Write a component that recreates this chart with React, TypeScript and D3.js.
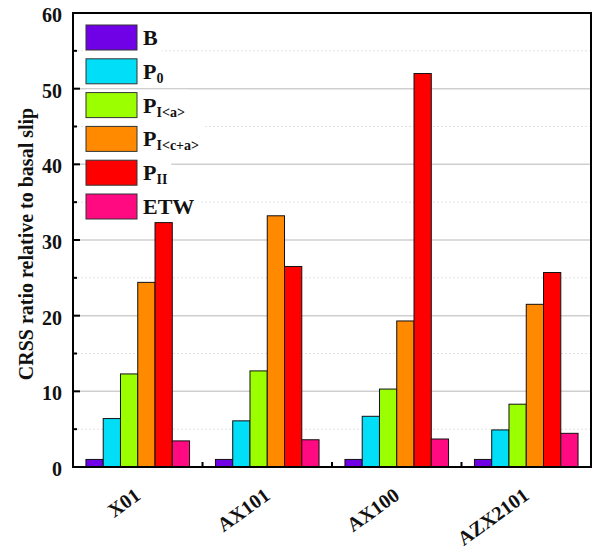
import * as d3 from "d3";
import { useEffect, useRef } from "react";

const categories = ["X01", "AX101", "AX100", "AZX2101"];
const seriesNames = ["B", "P0", "PI<a>", "PI<c+a>", "PII", "ETW"];
const seriesMain = ["B", "P", "P", "P", "P", "ETW"];
const seriesSub = ["", "0", "I<a>", "I<c+a>", "II", ""];
const seriesColors = ["#7000e6", "#00def8", "#9cff00", "#ff8a00", "#ff0000", "#ff0a80"];

const valB = [1, 1, 1, 1];
const valP0 = [6.4, 6.1, 6.7, 4.9];
const valPIa = [12.3, 12.7, 10.3, 8.3];
const valPIca = [24.4, 33.2, 19.3, 21.5];
const valPII = [32.3, 26.5, 52.0, 25.7];
const valETW = [3.45, 3.6, 3.7, 4.45];

const yTicks = [0, 10, 20, 30, 40, 50, 60];
const yMinor = [5, 15, 25, 35, 45, 55];

const W = 596, H = 549;
const M = { left: 73, right: 591, top: 13, bottom: 467 };
const FONT = "'Liberation Serif', 'Times New Roman', serif";

const App = () => {
  const svgRef = useRef(null);

  useEffect(() => {
    const svg = d3.select(svgRef.current);
    svg.selectAll("*").remove();

    const values = [valB, valP0, valPIa, valPIca, valPII, valETW];

    const x0 = d3.scaleBand().domain(categories).range([M.left, M.right])
      .paddingInner(0.2).paddingOuter(0.1);
    const x1 = d3.scaleBand().domain(seriesNames).range([0, x0.bandwidth()]);
    const y = d3.scaleLinear().domain([0, 60]).range([M.bottom, M.top]);

    // grid
    svg.append("g").selectAll("line").data(yMinor).join("line")
      .attr("x1", M.left).attr("x2", M.right)
      .attr("y1", d => y(d)).attr("y2", d => y(d))
      .attr("stroke", "#e2e2e2").attr("stroke-width", 1).attr("stroke-dasharray", "2,2");
    svg.append("g").selectAll("line").data(yTicks.slice(1, -1)).join("line")
      .attr("x1", M.left).attr("x2", M.right)
      .attr("y1", d => y(d)).attr("y2", d => y(d))
      .attr("stroke", "#cfcfcf").attr("stroke-width", 1.5);

    // bars
    const groups = svg.append("g").selectAll("g").data(categories).join("g")
      .attr("transform", d => `translate(${x0(d)},0)`);
    groups.selectAll("rect")
      .data((c, ci) => seriesNames.map((s, si) => ({ s, si, v: values[si][ci] })))
      .join("rect")
      .attr("x", d => x1(d.s))
      .attr("y", d => y(d.v))
      .attr("width", x1.bandwidth())
      .attr("height", d => y(0) - y(d.v))
      .attr("fill", d => seriesColors[d.si])
      .attr("stroke", "#111")
      .attr("stroke-width", 1);

    // legend
    const leg = svg.append("g");
    seriesNames.forEach((s, i) => {
      const top = 25 + i * 33.8;
      const item = leg.append("g");
      const bg = item.append("rect").attr("fill", "#fff");
      item.append("rect")
        .attr("x", 86).attr("y", top).attr("width", 51).attr("height", 25)
        .attr("fill", seriesColors[i]).attr("stroke", "#333").attr("stroke-width", 1);
      const t = item.append("text")
        .attr("x", 143).attr("y", top + 20)
        .attr("font-family", FONT).attr("font-weight", "bold").attr("font-size", 22)
        .attr("fill", "#111");
      t.append("tspan").text(seriesMain[i]);
      if (seriesSub[i]) {
        t.append("tspan").attr("dy", 4).attr("font-size", 14).text(seriesSub[i]);
      }
      const bb = t.node().getBBox();
      bg.attr("x", 86).attr("y", top - 3).attr("width", bb.x + bb.width - 86 + 4).attr("height", 31);
    });

    // frame
    svg.append("rect")
      .attr("x", M.left).attr("y", M.top)
      .attr("width", M.right - M.left).attr("height", M.bottom - M.top)
      .attr("fill", "none").attr("stroke", "#000").attr("stroke-width", 2);

    // y ticks
    svg.append("g").selectAll("line").data(yTicks).join("line")
      .attr("x1", M.left).attr("x2", M.left + 7)
      .attr("y1", d => y(d)).attr("y2", d => y(d))
      .attr("stroke", "#000").attr("stroke-width", 2);
    svg.append("g").selectAll("line").data(yMinor).join("line")
      .attr("x1", M.left).attr("x2", M.left + 4)
      .attr("y1", d => y(d)).attr("y2", d => y(d))
      .attr("stroke", "#000").attr("stroke-width", 2);
    svg.append("g").selectAll("text").data(yTicks).join("text")
      .attr("x", 62).attr("y", d => y(d) + 9)
      .attr("text-anchor", "end")
      .attr("font-family", FONT).attr("font-weight", "bold").attr("font-size", 20)
      .attr("fill", "#111")
      .text(d => d);

    // x ticks at group boundaries
    const step = x0.step();
    svg.append("g").selectAll("line").data(categories.slice(1)).join("line")
      .attr("x1", d => x0(d) - (step - x0.bandwidth()) / 2)
      .attr("x2", d => x0(d) - (step - x0.bandwidth()) / 2)
      .attr("y1", M.bottom).attr("y2", M.bottom - 5)
      .attr("stroke", "#000").attr("stroke-width", 2);

    // x labels
    svg.append("g").selectAll("text").data(categories).join("text")
      .attr("transform", d => `translate(${x0(d) + x0.bandwidth() / 2 + 4},${M.bottom + 31}) rotate(-36)`)
      .attr("text-anchor", "end")
      .attr("font-family", FONT).attr("font-weight", "bold").attr("font-size", 20)
      .attr("fill", "#111")
      .text(d => d);

    // y title
    svg.append("text")
      .attr("transform", `translate(33,244) rotate(-90)`)
      .attr("text-anchor", "middle")
      .attr("font-family", FONT).attr("font-weight", "bold").attr("font-size", 20)
      .attr("fill", "#111")
      .text("CRSS ratio relative to basal slip");
  }, []);

  return (
    <svg ref={svgRef} width={W} height={H}
      style={{ position: "absolute", left: 0, top: 0, background: "#fff" }} />
  );
};

export default App;
